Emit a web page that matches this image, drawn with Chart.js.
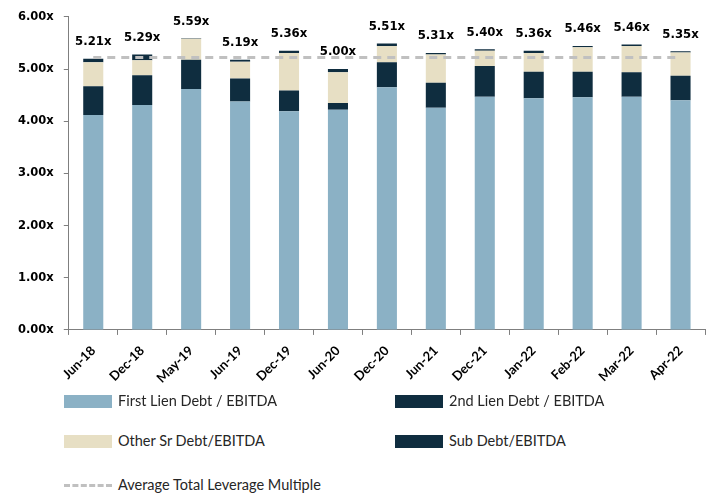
<!DOCTYPE html>
<html>
<head>
<meta charset="utf-8">
<script src="https://cdn.jsdelivr.net/npm/chart.js@4"></script>
<style>
  html, body { margin: 0; padding: 0; background: #ffffff; }
  #wrap { position: relative; width: 714px; height: 496px; overflow: hidden; }
  #chartBox { position: absolute; left: 0; top: 0; width: 714px; height: 394px; }
  .lg { position: absolute; font-family: Lato, "Liberation Sans", sans-serif; font-size: 14.5px; color: #262626; white-space: nowrap; line-height: 16px; }
  .sw { position: absolute; width: 48px; height: 13px; }
  .dash { position: absolute; width: 48px; height: 0; border-top: 3px dashed #c0c0c0; }
</style>
</head>
<body>
<div id="wrap">
  <div id="chartBox"><canvas id="c"></canvas></div>
  <div id="legend"></div>
</div>
<script>
const categories = ["Jun-18","Dec-18","May-19","Jun-19","Dec-19","Jun-20","Dec-20","Jun-21","Dec-21","Jan-22","Feb-22","Mar-22","Apr-22"];
const firstLien = [4.12, 4.31, 4.62, 4.38, 4.19, 4.22, 4.65, 4.26, 4.47, 4.44, 4.46, 4.47, 4.40];
const secondLien = [0.55, 0.57, 0.56, 0.44, 0.40, 0.13, 0.48, 0.48, 0.59, 0.51, 0.49, 0.47, 0.47];
const otherSr = [0.46, 0.29, 0.40, 0.32, 0.72, 0.59, 0.31, 0.54, 0.29, 0.36, 0.47, 0.50, 0.45];
const subDebt = [0.07, 0.11, 0.01, 0.04, 0.04, 0.06, 0.05, 0.03, 0.03, 0.04, 0.02, 0.03, 0.02];
const avgLeverage = [5.22, 5.22, 5.22, 5.22, 5.22, 5.22, 5.22, 5.22, 5.22, 5.22, 5.22, 5.22, 5.22];
const totalLabels = ["5.21x","5.29x","5.59x","5.19x","5.36x","5.00x","5.51x","5.31x","5.40x","5.36x","5.46x","5.46x","5.35x"];
const yTicks = [0, 1, 2, 3, 4, 5, 6];

const C_FIRST = "#8bb1c5";
const C_DARK = "#0f2d3f";
const C_BEIGE = "#e7dfc4";
const C_AVG = "#c0c0c0";
const COND_FONT = "'DejaVu Sans Condensed', 'DejaVu Sans', Verdana, sans-serif";
const WIDE_FONT = "'DejaVu Sans', Verdana, sans-serif";

const totalLabelPlugin = {
  id: "totalLabels",
  afterDatasetsDraw(chart) {
    const ctx = chart.ctx;
    const meta = chart.getDatasetMeta(3);
    ctx.save();
    ctx.font = "bold 13px " + COND_FONT;
    ctx.fillStyle = "#000000";
    ctx.textAlign = "center";
    ctx.textBaseline = "middle";
    meta.data.forEach((el, i) => {
      ctx.fillText(totalLabels[i], el.x, el.y - 17);
    });
    ctx.restore();
  }
};

new Chart(document.getElementById("c"), {
  type: "bar",
  data: {
    labels: categories,
    datasets: [
      { label: "First Lien Debt / EBITDA", data: firstLien, backgroundColor: C_FIRST, stack: "s", order: 2 },
      { label: "2nd Lien Debt / EBITDA", data: secondLien, backgroundColor: C_DARK, stack: "s", order: 2 },
      { label: "Other Sr Debt/EBITDA", data: otherSr, backgroundColor: C_BEIGE, stack: "s", order: 2 },
      { label: "Sub Debt/EBITDA", data: subDebt, backgroundColor: C_DARK, stack: "s", order: 2 },
      { type: "line", label: "Average Total Leverage Multiple", data: avgLeverage, borderColor: C_AVG, borderWidth: 3, borderDash: [8, 6], pointRadius: 0, fill: false, order: 1 }
    ]
  },
  options: {
    responsive: true,
    maintainAspectRatio: false,
    animation: false,
    layout: { padding: { top: 16, right: 9, left: 8, bottom: 0 } },
    datasets: { bar: { barPercentage: 0.82, categoryPercentage: 0.5 } },
    plugins: { legend: { display: false }, tooltip: { enabled: false } },
    scales: {
      x: {
        stacked: true,
        grid: { drawOnChartArea: false, drawTicks: true, tickLength: 5, color: "#7f7f7f", offset: true },
        border: { color: "#7f7f7f", width: 1 },
        ticks: {
          color: "#000000",
          font: { family: "Lato, 'Liberation Sans', sans-serif", weight: "bold", size: 13 },
          maxRotation: 45, minRotation: 45, autoSkip: false, padding: 8
        }
      },
      y: {
        stacked: true,
        min: 0, max: 6,
        afterBuildTicks(axis) { axis.ticks = yTicks.map(v => ({ value: v })); },
        grid: { drawOnChartArea: false, drawTicks: true, tickLength: 5, color: "#7f7f7f" },
        border: { color: "#7f7f7f", width: 1 },
        ticks: {
          color: "#000000",
          font: { family: WIDE_FONT, weight: "bold", size: 11.5 },
          padding: 10,
          callback: v => v.toFixed(2) + "x"
        }
      }
    }
  },
  plugins: [totalLabelPlugin]
});

// Legend (HTML)
const legendItems = [
  { text: "First Lien Debt / EBITDA", color: C_FIRST, x: 64, y: 401, type: "box" },
  { text: "2nd Lien Debt / EBITDA", color: C_DARK, x: 395, y: 401, type: "box" },
  { text: "Other Sr Debt/EBITDA", color: C_BEIGE, x: 64, y: 441, type: "box" },
  { text: "Sub Debt/EBITDA", color: C_DARK, x: 395, y: 441, type: "box" },
  { text: "Average Total Leverage Multiple", color: C_AVG, x: 64, y: 485, type: "dash" }
];
const lg = document.getElementById("legend");
legendItems.forEach(it => {
  const s = document.createElement("div");
  if (it.type === "box") {
    s.className = "sw";
    s.style.background = it.color;
    s.style.left = it.x + "px";
    s.style.top = (it.y - 6) + "px";
  } else {
    s.className = "dash";
    s.style.left = it.x + "px";
    s.style.top = (it.y - 1) + "px";
  }
  lg.appendChild(s);
  const t = document.createElement("div");
  t.className = "lg";
  t.textContent = it.text;
  t.style.left = (it.x + 54) + "px";
  t.style.top = (it.y - 8) + "px";
  lg.appendChild(t);
});
</script>
</body>
</html>
